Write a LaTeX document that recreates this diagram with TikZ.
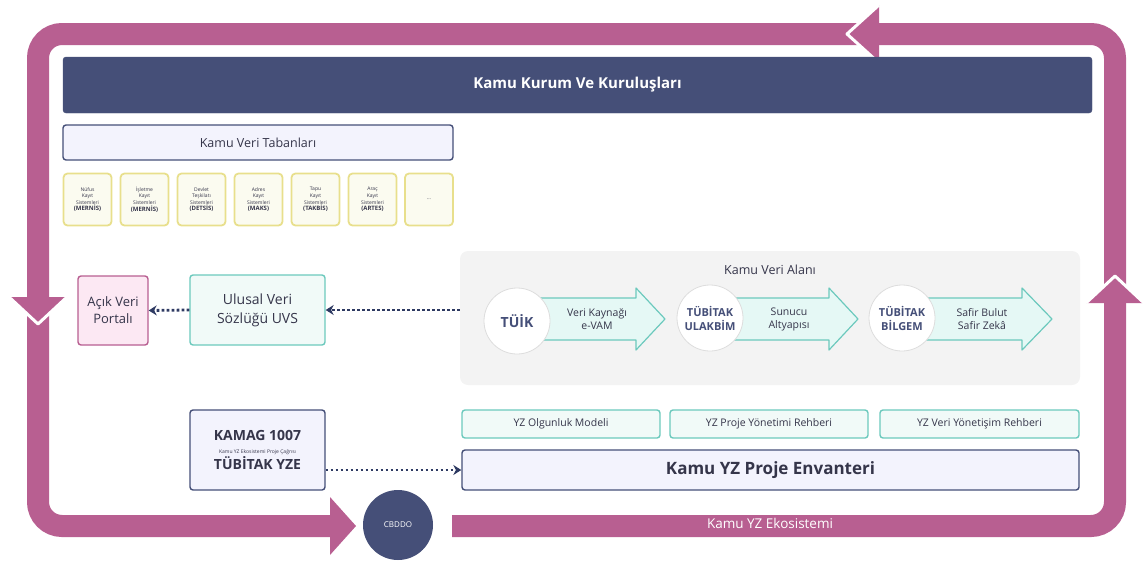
\documentclass[tikz,border=0pt]{standalone}
\usepackage{fontspec}
\setmainfont{Open Sans}
\usetikzlibrary{arrows.meta}
\definecolor{pinkc}{HTML}{B85F91}
\definecolor{navy}{HTML}{454F78}
\definecolor{lav}{HTML}{F3F3FD}
\definecolor{tealc}{HTML}{6CC9BD}
\definecolor{tealbg}{HTML}{E5F8F5}
\definecolor{tealbox}{HTML}{F1FAF8}
\definecolor{cream}{HTML}{FBFBF0}
\definecolor{yel}{HTML}{E8DF8C}
\definecolor{pinkbg}{HTML}{FCE8F3}
\definecolor{txt}{HTML}{35354A}
\definecolor{grayarea}{HTML}{F3F3F3}
\definecolor{circb}{HTML}{DDDDDD}
\definecolor{dotc}{HTML}{2E3A62}
\tikzset{
  band/.style={line width=22pt, draw=pinkc, rounded corners=24pt},
  headfill/.style={fill=pinkc},
  headedge/.style={draw=white, line width=3pt, line join=round},
  navybox/.style={rounded corners=3pt, line width=1.4pt, draw=navy, fill=lav, text=txt, inner sep=0pt, align=center},
  yelbox/.style={rounded corners=4pt, line width=1.8pt, draw=yel, fill=cream, text=txt, minimum width=48pt, minimum height=52pt, inner sep=0pt, align=center, font=\fontsize{5}{6.6}\selectfont},
  tealnode/.style={rounded corners=3pt, line width=1.4pt, draw=tealc, fill=tealbox, text=txt, inner sep=0pt, align=center},
  dotarrow/.style={draw=dotc, line width=2.8pt, dash pattern=on 2.6pt off 2.4pt, -{Stealth[length=8pt,width=10pt]}},
  circnode/.style={circle, fill=white, draw=circb, line width=0.8pt, minimum size=66pt, inner sep=0pt, align=center, text=navy},
  blockarrow/.style={fill=tealbg, draw=tealc, line width=1.2pt, line join=round},
  arrtext/.style={text=txt, align=center, font=\fontsize{10.5}{13}\selectfont}
}
\begin{document}
\begin{tikzpicture}[x=1pt,y=-1pt]
\useasboundingbox (0,0) rectangle (1143,562);

% loop band
\draw[band] (452,526) -- (1115,526) -- (1115,34) -- (38,34) -- (38,526) -- (335,526);
% arrow heads on the loop
\fill[headfill] (879,5) -- (847,34) -- (879,63) -- cycle;
\draw[headedge] (879,5) -- (847,34) -- (879,63);
\fill[headfill] (9,297) -- (38,324) -- (67,297) -- cycle;
\draw[headedge] (9,297) -- (38,324) -- (67,297);
\fill[headfill] (1086,303) -- (1115,276) -- (1144,303) -- cycle;
\draw[headedge] (1086,303) -- (1115,276) -- (1144,303);
\fill[headfill] (330,497) -- (356,526) -- (330,555) -- cycle;
\node[text=white, font=\fontsize{13.5}{15}\selectfont] (eko) at (770,523) {Kamu YZ Ekosistemi};

% header
\node[rounded corners=3pt, fill=navy, draw=navy, minimum width=1029pt, minimum height=56pt, inner sep=0pt, text=white, font=\fontsize{15}{18}\selectfont\bfseries] (kurum) at (577.5,85) {Kamu Kurum Ve Kuruluşları};

% Kamu Veri Tabanlari
\node[navybox, minimum width=390pt, minimum height=35pt, font=\fontsize{12.5}{15}\selectfont] (tabanlari) at (258,142.5) {Kamu Veri Tabanları};
\node[yelbox] (y1) at (87.5,199.5) {Nüfus\\Kayıt\\Sistemleri\\{\fontsize{6}{7.5}\selectfont\bfseries (MERNİS)}};
\node[yelbox] (y2) at (144.5,199.5) {İşletme\\Kayıt\\Sistemleri\\{\fontsize{6}{7.5}\selectfont\bfseries (MERNİS)}};
\node[yelbox] (y3) at (201.5,199.5) {Devlet\\Teşkilatı\\Sistemleri\\{\fontsize{6}{7.5}\selectfont\bfseries (DETSİS)}};
\node[yelbox] (y4) at (258.5,199.5) {Adres\\Kayıt\\Sistemleri\\{\fontsize{6}{7.5}\selectfont\bfseries (MAKS)}};
\node[yelbox] (y5) at (315.5,199.5) {Tapu\\Kayıt\\Sistemleri\\{\fontsize{6}{7.5}\selectfont\bfseries (TAKBİS)}};
\node[yelbox] (y6) at (372.5,199.5) {Araç\\Kayıt\\Sistemleri\\{\fontsize{6}{7.5}\selectfont\bfseries (ARTES)}};
\node[yelbox] (y7) at (429,199.5) {...};

% Kamu Veri Alani
\node[rounded corners=8pt, fill=grayarea, minimum width=620pt, minimum height=134pt, inner sep=0pt] (alan) at (770,318) {};
\node[text=txt, font=\fontsize{12.5}{15}\selectfont] (alantitle) at (770,270) {Kamu Veri Alanı};

\draw[blockarrow] (520,298) -- (636,298) -- (636,288) -- (665,319) -- (636,350) -- (636,340) -- (520,340) -- cycle;
\draw[blockarrow] (712,298) -- (829,298) -- (829,288) -- (858,319) -- (829,350) -- (829,340) -- (712,340) -- cycle;
\draw[blockarrow] (904,298) -- (1022,298) -- (1022,288) -- (1052,319) -- (1022,350) -- (1022,340) -- (904,340) -- cycle;
\node[arrtext] (a1) at (597,319) {Veri Kaynağı\\e-VAM};
\node[arrtext] (a2) at (789,319) {Sunucu\\Altyapısı};
\node[arrtext] (a3) at (982,319) {Safir Bulut\\Safir Zekâ};
\node[circnode, font=\fontsize{14}{16}\selectfont\bfseries] (tuik) at (517,321) {TÜİK};
\node[circnode, font=\fontsize{11}{14}\selectfont\bfseries] (ulak) at (710,318) {TÜBİTAK\\ULAKBİM};
\node[circnode, font=\fontsize{11}{14}\selectfont\bfseries] (bilgem) at (902,318) {TÜBİTAK\\BİLGEM};

% left side
\node[rounded corners=3pt, line width=1.4pt, draw=pinkc, fill=pinkbg, text=txt, minimum width=70pt, minimum height=69pt, inner sep=0pt, align=center, font=\fontsize{13}{17}\selectfont] (acik) at (113,310.5) {Açık Veri\\Portalı};
\node[tealnode, minimum width=135pt, minimum height=70pt, font=\fontsize{14}{19}\selectfont] (uvs) at (257.5,310) {Ulusal Veri\\Sözlüğü UVS};
\draw[dotarrow] (alan.west |- uvs.east) -- (uvs.east);
\draw[dotarrow] (uvs.west) -- (acik.east);

% YZ guides
\node[tealnode, minimum width=198pt, minimum height=28pt, font=\fontsize{10.5}{13}\selectfont] (olg) at (561,424) {YZ Olgunluk Modeli};
\node[tealnode, minimum width=198pt, minimum height=28pt, font=\fontsize{10.5}{13}\selectfont] (pyr) at (769,424) {YZ Proje Yönetimi Rehberi};
\node[tealnode, minimum width=199pt, minimum height=28pt, font=\fontsize{10.5}{13}\selectfont] (vyr) at (979.5,424) {YZ Veri Yönetişim Rehberi};
\node[navybox, minimum width=617pt, minimum height=40pt, font=\fontsize{17}{20}\selectfont\bfseries] (env) at (770.5,470) {Kamu YZ Proje Envanteri};

% KAMAG
\node[navybox, minimum width=135pt, minimum height=80pt] (kamag) at (257.5,450) {{\fontsize{14}{18}\selectfont\bfseries KAMAG 1007}\\[1pt]{\fontsize{5}{8}\selectfont Kamu YZ Ekosistemi Proje Çağrısı}\\[1pt]{\fontsize{14}{18}\selectfont\bfseries TÜBİTAK YZE}};
\draw[dotarrow] (kamag.east |- env.west) -- (env.west);

% CBDDO
\node[circle, fill=navy, minimum size=70pt, inner sep=0pt, text=white, font=\fontsize{8}{10}\selectfont] (cbddo) at (398,525) {CBDDO};
\end{tikzpicture}
\end{document}
